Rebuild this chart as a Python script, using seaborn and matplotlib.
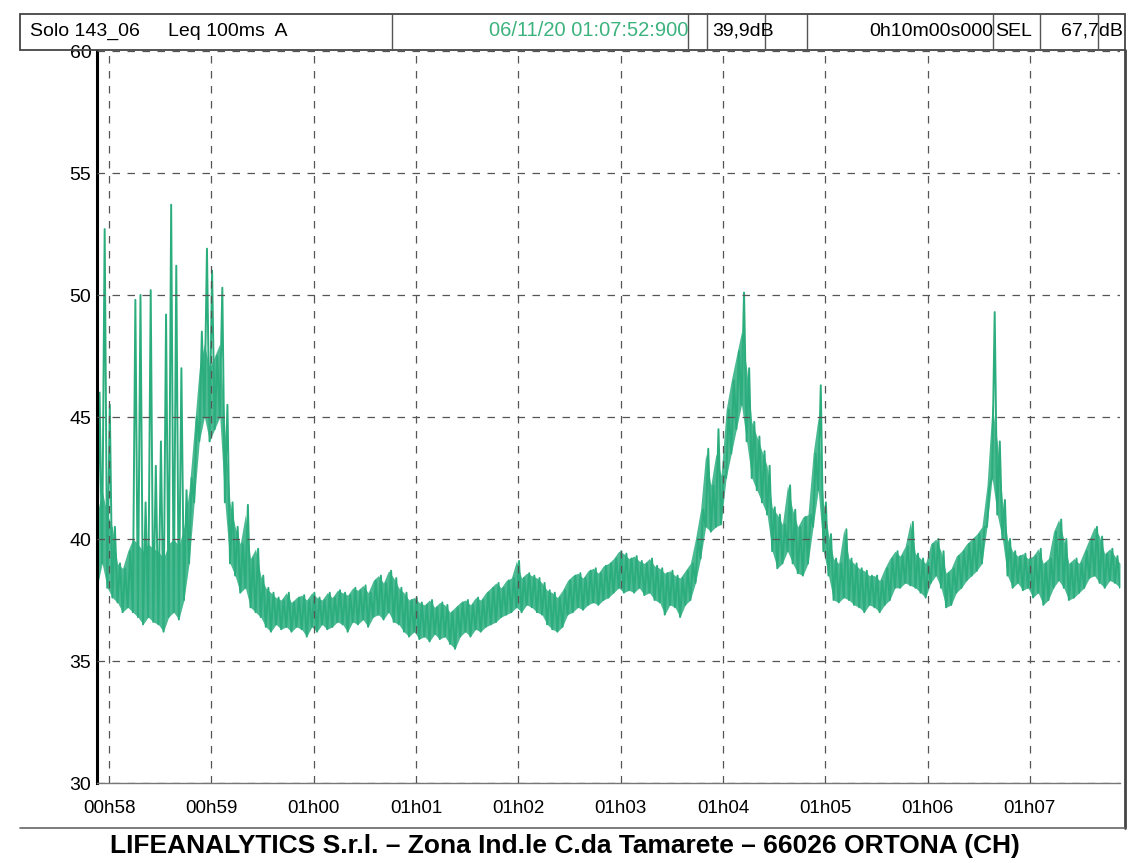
import numpy as np
import pandas as pd
import matplotlib.pyplot as plt
from matplotlib.patches import Rectangle
from matplotlib.lines import Line2D
import seaborn as sns

# --- data: Leq 100ms A, sampled every 3 s from 00:57:52.9 (lower / upper edge of the trace)
step_s = 3.0
level_low = [
    38.0, 39.0, 38.0, 37.6, 37.4, 37.0, 37.2, 37.0, 36.8, 36.5,
    36.8, 36.6, 36.5, 36.2, 36.8, 37.0, 36.7, 37.5, 39.0, 41.5,
    44.0, 45.0, 44.0, 44.5, 45.0, 41.5, 39.0, 38.5, 37.8, 38.0,
    37.2, 37.0, 36.8, 36.4, 36.2, 36.5, 36.3, 36.4, 36.2, 36.4,
    36.3, 36.0, 36.4, 36.2, 36.5, 36.3, 36.4, 36.6, 36.5, 36.2,
    36.6, 36.5, 36.7, 36.4, 36.8, 36.9, 36.7, 37.0, 36.6, 36.5,
    36.2, 36.0, 36.2, 35.9, 36.0, 35.8, 36.1, 35.9, 36.0, 35.7,
    35.5, 36.0, 36.2, 36.0, 36.3, 36.2, 36.4, 36.5, 36.6, 36.8,
    36.9, 37.0, 37.2, 37.0, 37.3, 37.2, 37.0, 36.9, 36.5, 36.3,
    36.2, 36.4, 36.9, 37.0, 37.2, 37.1, 37.3, 37.4, 37.3, 37.5,
    37.6, 37.8, 38.0, 37.8, 37.9, 37.8, 38.0, 37.7, 37.8, 37.5,
    37.4, 36.9, 37.3, 37.2, 36.8, 37.3, 37.5, 38.2, 39.2, 40.5,
    40.3, 40.5, 40.6, 42.5, 43.5, 44.5, 45.5, 44.0, 42.5, 42.0,
    41.5, 41.0, 39.5, 38.8, 39.0, 39.5, 39.0, 38.6, 38.5, 39.0,
    40.5, 42.0, 39.5, 38.5, 37.5, 37.4, 37.6, 37.5, 37.3, 37.2,
    37.0, 37.3, 37.2, 37.0, 37.3, 37.5, 38.0, 38.0, 38.2, 38.1,
    38.0, 37.8, 37.6, 38.2, 38.5, 38.0, 37.2, 37.3, 37.8, 38.0,
    38.3, 38.5, 38.7, 39.0, 40.5, 42.5, 41.0, 40.0, 38.5, 38.0,
    38.2, 37.9, 38.0, 37.6, 37.8, 37.3, 37.5, 38.0, 38.3, 38.0,
    37.5, 37.6, 37.8, 38.0, 38.4, 38.5, 38.2, 38.0, 38.3, 38.2,
    38.0,
]
level_high = [
    46.0, 52.7, 45.5, 40.5, 39.0, 38.8, 39.5, 49.8, 50.0, 41.5,
    50.2, 43.0, 44.0, 49.2, 53.7, 51.2, 47.0, 42.0, 42.5, 45.0,
    48.5, 51.9, 51.0, 47.5, 50.3, 45.5, 41.5, 40.5, 39.8, 41.4,
    39.2, 39.6, 38.5, 38.0, 37.8, 37.6, 37.5, 37.8, 37.4, 37.6,
    37.7, 37.5, 37.8, 37.6, 37.5, 37.8, 37.6, 37.9, 37.8, 37.7,
    38.0, 37.9, 38.1, 37.8, 38.3, 38.5, 38.2, 38.7, 38.4, 38.0,
    37.8, 37.5, 37.6, 37.4, 37.3, 37.5, 37.2, 37.4, 37.3, 37.0,
    37.2, 37.4, 37.5, 37.3, 37.6, 37.5, 37.8, 38.0, 38.2, 38.0,
    38.3, 38.4, 39.1, 38.4, 38.6, 38.5, 38.4, 38.2, 37.9, 37.8,
    37.6, 37.9, 38.3, 38.5, 38.6, 38.4, 38.7, 38.8, 38.6, 38.9,
    39.0, 39.2, 39.5, 39.4, 39.2, 39.3, 39.1, 39.0, 39.2, 38.9,
    38.8, 38.6, 38.7, 38.5, 38.4, 38.7, 39.0, 40.0, 41.2, 43.7,
    42.2, 44.5, 42.6, 45.3, 46.5, 47.7, 50.1, 47.0, 44.8, 44.2,
    43.6, 43.0, 41.3, 41.0, 40.6, 42.2, 41.2, 40.5, 40.9, 41.0,
    43.5, 46.3, 41.5, 40.2, 39.2, 39.0, 40.4, 39.2, 39.0, 38.8,
    38.7, 38.5, 38.5, 38.3, 38.8, 39.2, 39.5, 39.3, 39.7, 40.7,
    39.4, 39.2, 39.0, 39.8, 40.0, 39.5, 38.6, 38.8, 39.3, 39.5,
    39.8, 40.0, 40.2, 40.5, 42.2, 49.3, 44.0, 41.6, 40.0, 39.5,
    39.3, 39.4, 39.2, 39.3, 39.6, 39.0, 39.2, 40.3, 40.8, 40.0,
    39.0, 39.2, 39.0, 39.5, 40.0, 40.5, 40.1, 39.4, 39.6, 39.3,
    39.0,
]
tick_seconds = [7.1, 67.1, 127.1, 187.1, 247.1, 307.1, 367.1, 427.1, 487.1, 547.1]
tick_labels = ["00h58", "00h59", "01h00", "01h01", "01h02",
               "01h03", "01h04", "01h05", "01h06", "01h07"]
y_ticks = [30, 35, 40, 45, 50, 55, 60]

# header texts
hdr_name = "Solo 143_06"
hdr_param = "Leq 100ms  A"
hdr_time = "06/11/20 01:07:52:900"
hdr_leq = "39,9dB"
hdr_dur = "0h10m00s000"
hdr_sel_lbl = "SEL"
hdr_sel = "67,7dB"
footer = "LIFEANALYTICS S.r.l. \u2013 Zona Ind.le C.da Tamarete \u2013 66026 ORTONA (CH)"

GREEN = "#2bad7e"
W, H = 1130, 863

# zig-zag between lower and upper edge so the trace reads as a dense band
t_low = np.arange(len(level_low)) * step_s
t_high = t_low + step_s / 2
df = pd.DataFrame({
    "t": np.ravel(np.column_stack([t_low, t_high])),
    "db": np.ravel(np.column_stack([level_low, level_high])),
})
lo = np.array(level_low)
hi = np.array(level_high)

sns.set_theme(style="white")
plt.rcParams["font.family"] = ["Liberation Sans", "DejaVu Sans"]
plt.rcParams["text.color"] = "black"
plt.rcParams["xtick.labelcolor"] = "black"
plt.rcParams["ytick.labelcolor"] = "black"

fig = plt.figure(figsize=(W / 100, H / 100), dpi=100)
ax = fig.add_axes([97 / W, 1 - 783 / H, (1120 - 97) / W, (783 - 51) / H])

# solid core of the band (spikes are left to the zig-zag line)
ax.fill_between(t_low, lo, np.minimum(hi, lo + 3), color=GREEN, alpha=0.85, lw=0)
sns.lineplot(data=df, x="t", y="db", ax=ax, color=GREEN, lw=1.4,
             estimator=None, sort=False)

ax.set_xlim(0, 600)
ax.set_ylim(30, 60)
ax.set_xticks(tick_seconds)
ax.set_xticklabels(tick_labels)
ax.set_yticks(y_ticks)
ax.set_xlabel("")
ax.set_ylabel("")
ax.tick_params(axis="x", direction="in", length=5, width=1, color="#555",
               labelsize=13.5, pad=12, labelcolor="black")
ax.tick_params(axis="y", length=0, labelsize=14, pad=4, labelcolor="black")
ax.grid(True, color="#555", linestyle=(0, (6, 6)), lw=0.9)
ax.set_axisbelow(False)

for side in ["top", "right"]:
    ax.spines[side].set_visible(False)
ax.spines["left"].set_color("black")
ax.spines["left"].set_linewidth(2.2)
ax.spines["bottom"].set_color("#777")
ax.spines["bottom"].set_linewidth(1.0)


def fx(px):
    return px / W


def fy(py):
    return 1 - py / H


# header strip with separators
hdr_top, hdr_bot = 14, 50
fig.add_artist(Rectangle((fx(20), fy(hdr_bot)), fx(1125) - fx(20), fy(hdr_top) - fy(hdr_bot),
                         fill=False, ec="#444", lw=1.3, transform=fig.transFigure))
for sep in [392, 688, 707, 765, 807, 993, 1040, 1098]:
    fig.add_artist(Line2D([fx(sep), fx(sep)], [fy(hdr_bot), fy(hdr_top)],
                          color="#555", lw=1.0, transform=fig.transFigure))

yc = fy(31)
fig.text(fx(30), yc, hdr_name, fontsize=14, va="center", ha="left", color="black")
fig.text(fx(168), yc, hdr_param, fontsize=14, va="center", ha="left", color="black")
fig.text(fx(688), yc, hdr_time, fontsize=14.5, va="center", ha="right", color="#3cb37e")
fig.text(fx(712), yc, hdr_leq, fontsize=14, va="center", ha="left", color="black")
fig.text(fx(993), yc, hdr_dur, fontsize=14, va="center", ha="right", color="black")
fig.text(fx(995), yc, hdr_sel_lbl, fontsize=14, va="center", ha="left", color="black")
fig.text(fx(1123), yc, hdr_sel, fontsize=14, va="center", ha="right", color="black")

# outer frame: right edge and line under the time labels
fig.add_artist(Line2D([fx(1125), fx(1125)], [fy(828), fy(hdr_bot)],
                      color="#444", lw=2.0, transform=fig.transFigure))
fig.add_artist(Line2D([fx(20), fx(1125)], [fy(828), fy(828)],
                      color="#666", lw=1.2, transform=fig.transFigure))

fig.text(fx(565), fy(846), footer, fontsize=19, fontweight="bold",
         ha="center", va="center", color="black")

fig.savefig("out.png", dpi=100, facecolor="white")
